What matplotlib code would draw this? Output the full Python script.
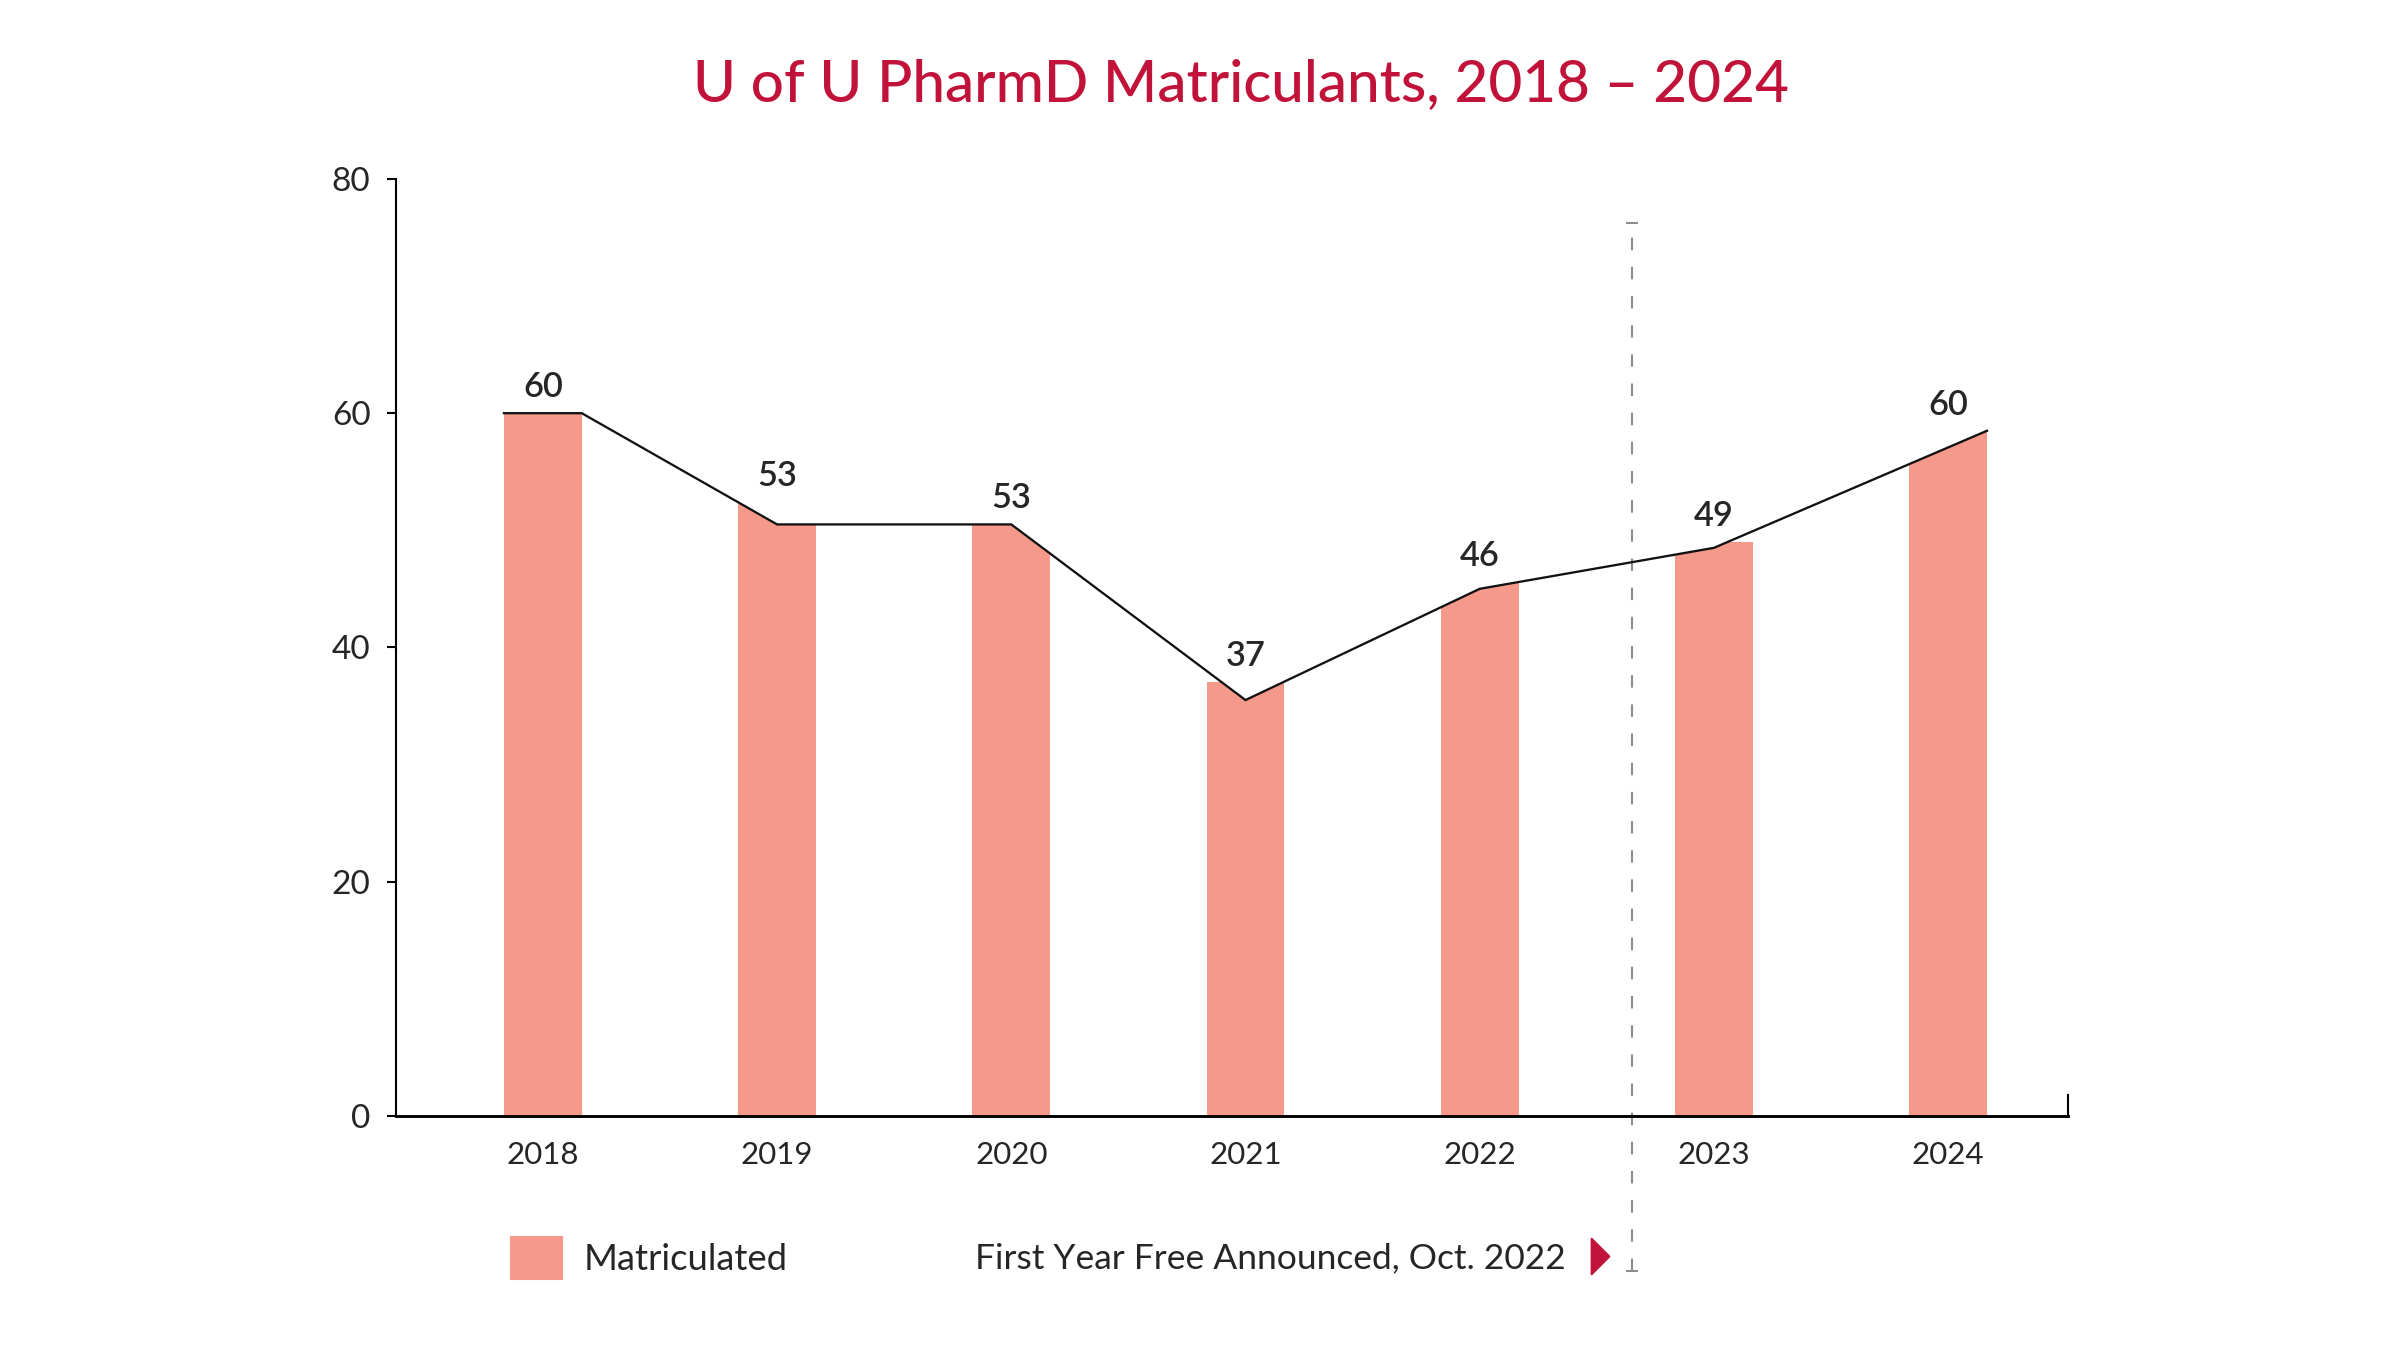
import numpy as np
import matplotlib.pyplot as plt
from matplotlib.path import Path
from matplotlib.lines import Line2D
from matplotlib.patches import Patch

years = ['2018', '2019', '2020', '2021', '2022', '2023', '2024']
matriculated = [60, 53, 53, 37, 46, 49, 60]
# trend line as it is drawn on the graphic (doesn't hit the labels exactly)
trend = [60, 50.5, 50.5, 35.5, 45, 48.5, 58.5]
announced = 4.65   # Oct. 2022, in year-index units

bar_color = '#F5998A'
red = '#C1133A'
ink = '#262626'

plt.rcParams['font.family'] = ['Lato', 'DejaVu Sans']

fig = plt.figure(figsize=(16, 8.98), dpi=150)
ax = fig.add_axes([0.1652, 0.1717, 0.6964, 0.6954])

x = np.arange(len(years))
w = 0.332

# line starts flat across the first bar and ends at the right edge of the last
line_x = np.r_[x[0] - w / 2, x[0] + w / 2, x[1:-1], x[-1] + w / 2]
line_y = np.r_[trend[0], trend[0], trend[1:-1], trend[-1]]

# bars only show the part under the line
clip = Path(np.column_stack([np.r_[line_x[0], line_x, line_x[-1]],
                             np.r_[0, line_y, 0]]))
bars = ax.bar(x, matriculated, width=w, color=bar_color, zorder=2)
for b in bars:
    b.set_clip_path(clip, ax.transData)

ax.plot(line_x, line_y, color='#111111', lw=1.1, zorder=3)

for xi, v in zip(x, matriculated):
    top = min(v, np.interp([xi - w / 2, xi, xi + w / 2], line_x, line_y).max())
    ax.annotate(str(v), (xi, top), xytext=(0, 12.5), textcoords='offset points',
                ha='center', va='center', fontsize=16.5, color=ink, fontweight='semibold')

# announcement marker
ax.axvline(announced, ymin=-0.166, ymax=0.953, color='#8c8c8c', lw=1.0,
           dashes=(6, 8), marker='_', ms=6, mew=1.0, clip_on=False, zorder=1)

ax.set_xlim(-0.625, 6.511)
ax.set_ylim(0, 80)
ax.set_xticks(x, years)
ax.set_yticks([0, 20, 40, 60, 80])
ax.tick_params(axis='x', length=0, pad=12, labelsize=15, labelcolor=ink)
ax.tick_params(axis='y', length=4.5, width=1.0, pad=8, labelsize=16, labelcolor=ink)

ax.spines['top'].set_visible(False)
ax.spines['right'].set_bounds(0, 1.8)
for s in ['left', 'bottom', 'right']:
    ax.spines[s].set_linewidth(1.0)
ax.spines['bottom'].set_linewidth(1.4)

fig.text(0.517, 0.9376, 'U of U PharmD Matriculants, 2018 \u2013 2024', ha='center', va='center',
         fontsize=28, color=red, fontweight='medium')

# legend: swatch + text, then text + red arrow head
leg1 = fig.legend(handles=[Patch(color=bar_color, label='Matriculated')],
                  loc='center left', bbox_to_anchor=(0.213, 0.066), frameon=False,
                  fontsize=17.5, handlelength=1.4, handleheight=1.4, handletextpad=0.58,
                  borderpad=0, borderaxespad=0)
tri = Path([(-0.5, 1), (0.5, 0), (-0.5, -1), (-0.5, 1)],
           [Path.MOVETO, Path.LINETO, Path.LINETO, Path.CLOSEPOLY])
leg2 = fig.legend(handles=[Line2D([], [], ls='none', marker=tri, ms=17, color=red,
                                  label='First Year Free Announced, Oct. 2022')],
                  loc='center left', bbox_to_anchor=(0.4063, 0.066), frameon=False,
                  fontsize=17, markerfirst=False, handlelength=1.0, handletextpad=0.45,
                  borderpad=0, borderaxespad=0)
for leg in (leg1, leg2):
    for t in leg.get_texts():
        t.set_color(ink)

fig.savefig('out.png', dpi=150)
